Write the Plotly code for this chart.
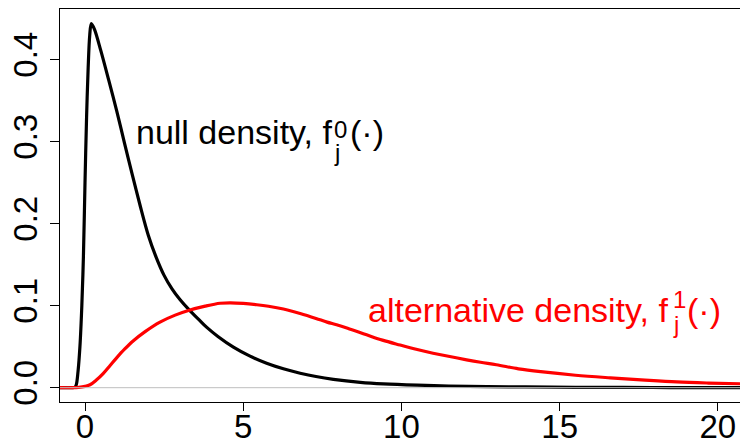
import plotly.graph_objects as go

# ---- data ----
null_x = [-0.8, -0.4, -0.33, -0.28, -0.22, -0.16, -0.1, -0.05, 0.0, 0.05, 0.1, 0.15, 0.2,
          0.3, 0.5, 0.75, 1.0, 1.25, 1.5, 1.75, 2.0, 2.25, 2.5, 2.75, 3.0, 3.3, 3.6,
          3.85, 4.2, 4.69, 5.2, 5.74, 6.27, 6.8, 7.3, 7.85, 8.7, 9.43, 10.5, 11.5, 12.7,
          13.9, 15.5, 17.0, 18.5, 20.7]
null_y = [0.0, 0.0, 0.0003, 0.003, 0.02, 0.05, 0.1, 0.16, 0.25, 0.33, 0.39, 0.43, 0.444,
          0.437, 0.411, 0.375, 0.338, 0.298, 0.259, 0.221, 0.186, 0.159, 0.137, 0.1205,
          0.1075, 0.0945, 0.083, 0.0735, 0.0625, 0.0495, 0.0388, 0.0298, 0.023, 0.0177,
          0.0136, 0.0102, 0.0066, 0.0047, 0.0031, 0.0021, 0.0014, 0.0009, 0.0005, 0.0003,
          0.0002, 0.0001]

alt_x = [-0.8, -0.4, -0.2, 0.0, 0.16, 0.35, 0.58, 0.8, 1.0, 1.25, 1.53, 1.9, 2.37, 2.85,
         3.32, 3.8, 4.27, 4.6, 5.0, 5.43, 5.8, 6.27, 6.8, 7.3, 7.65, 7.95, 8.3, 8.9, 9.4,
         9.96, 10.5, 11.0, 12.06, 12.5, 13.0, 13.7, 14.4, 15.5, 16.6, 17.7, 18.7, 19.7, 20.7]
alt_y = [0.0, 0.0, 0.0004, 0.0016, 0.0036, 0.009, 0.0175, 0.0274, 0.0364, 0.0469, 0.0573,
         0.0684, 0.080, 0.0885, 0.0948, 0.0995, 0.1030, 0.1035, 0.1028, 0.1012, 0.0993,
         0.096, 0.0905, 0.0845, 0.080, 0.0768, 0.0725, 0.0645, 0.058, 0.052, 0.0465, 0.042,
         0.034, 0.031, 0.028, 0.023, 0.0195, 0.0152, 0.012, 0.0092, 0.007, 0.0057, 0.0048]

x_ticks = [0, 5, 10, 15, 20]
y_ticks = [0.0, 0.1, 0.2, 0.3, 0.4]
y_tick_text = ["0.0", "0.1", "0.2", "0.3", "0.4"]

XR = [-0.79, 20.70]
YR = [-0.01744, 0.46183]
W, H = 740, 438
ML, MR, MT, MB = 60, 0, 9, 36
FONT = "Liberation Sans, Arial, Helvetica, sans-serif"


def px_to_x(px):
    return XR[0] + (px - ML) / (W - ML - MR) * (XR[1] - XR[0])


def py_to_y(py):
    return YR[1] - (py - MT) / (H - MT - MB) * (YR[1] - YR[0])


fig = go.Figure()
fig.add_hline(y=0, line=dict(color="#BEBEBE", width=1))
fig.add_trace(go.Scatter(x=null_x, y=null_y, mode="lines",
                         line=dict(color="black", width=3.2, shape="spline", smoothing=0.9),
                         hoverinfo="skip"))
fig.add_trace(go.Scatter(x=alt_x, y=alt_y, mode="lines",
                         line=dict(color="#FF0000", width=3.2, shape="spline", smoothing=1.0),
                         hoverinfo="skip"))

ann = []


def label(text, px, py, size, color, xanchor="left"):
    ann.append(dict(text=text, x=px_to_x(px), y=py_to_y(py), xref="x", yref="y",
                    xanchor=xanchor, yanchor="middle", showarrow=False,
                    font=dict(family=FONT, size=size, color=color)))


# null density label
label("null density, f", 134, 131.5, 34, "black")
label("j", 336.7, 152, 24, "black", "center")
label("0", 340.7, 129.5, 24, "black", "center")
label("(·)", 348, 131.5, 34, "black")
# alternative density label
label("alternative density, f", 365.5, 309.9, 34, "#FF0000")
label("j", 675.7, 324.5, 24, "#FF0000", "center")
label("1", 679, 299, 24, "#FF0000", "center")
label("(·)", 685, 309.9, 34, "#FF0000")

fig.update_layout(
    width=W, height=H,
    margin=dict(l=ML, r=MR, t=MT, b=MB, pad=0, autoexpand=False),
    paper_bgcolor="white", plot_bgcolor="white",
    showlegend=False,
    annotations=ann,
    xaxis=dict(range=XR, tickvals=x_ticks, ticktext=[str(v) for v in x_ticks],
               automargin=False, ticklabelstandoff=-13,
               showgrid=False, zeroline=False, showline=True, mirror=True,
               linecolor="black", linewidth=1, ticks="outside", ticklen=8,
               tickwidth=1, tickcolor="black",
               tickfont=dict(family=FONT, size=33, color="black")),
    yaxis=dict(range=YR, tickvals=y_ticks, ticktext=y_tick_text, tickangle=-90,
               automargin=False,
               showgrid=False, zeroline=False, showline=True, mirror=False,
               linecolor="black", linewidth=1, ticks="outside", ticklen=9,
               tickwidth=1, tickcolor="black",
               tickfont=dict(family=FONT, size=33, color="black")),
)

fig.write_html("out.html")
